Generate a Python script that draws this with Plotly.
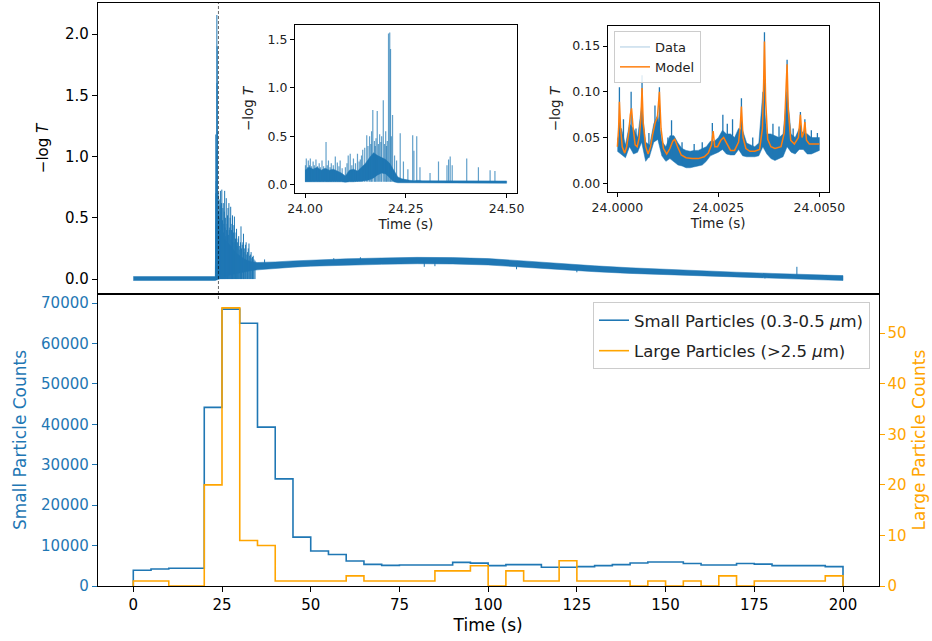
import plotly.graph_objects as go

W, H = 932, 641
BLUE = "#1f77b4"
ORANGE = "#ffa500"
MODEL_ORANGE = "#ff7f0e"
FONT = "DejaVu Sans"

# ---------------- bottom panel: particle counts in 5 s bins ----------------
bin_edges = list(range(0, 205, 5))
small_counts = [3900, 4200, 4400, 4400, 44200, 68500, 65000, 39300, 26500, 12100,
                8650, 7800, 6200, 5350, 5100, 5200, 5200, 5200, 5850, 5650,
                5050, 5300, 5300, 4650, 4650, 4800, 5050, 5300, 5700, 5950,
                5950, 5550, 5200, 5200, 5550, 5400, 5050, 5050, 5050, 4800]
large_counts = [1, 1, 0, 0, 20, 55, 9, 8, 1, 1,
                1, 1, 2, 1, 1, 1, 1, 3, 3, 4,
                0, 3, 1, 1, 5, 1, 1, 1, 0, 1,
                0, 1, 0, 2, 0, 1, 1, 1, 1, 2]
x_ticks = [0, 25, 50, 75, 100, 125, 150, 175, 200]
small_ticks = [0, 10000, 20000, 30000, 40000, 50000, 60000, 70000]
large_ticks = [0, 10, 20, 30, 40, 50]

# ---------------- top panel: -log T over the whole run ----------------
main_t = [0, 23.1, 23.3, 23.6, 24.0, 24.5, 25.5, 26.5, 27.5, 28.5, 29.5, 30.5, 31.5, 32.5,
          33.5, 35, 37, 40, 45, 50, 60, 70, 80, 90, 100, 110, 120, 130, 140, 150, 160,
          170, 180, 190, 200]
main_lo = [-0.012, -0.012, -0.01, -0.005, 0.0, 0.005, 0.015, 0.025, 0.035, 0.045, 0.05,
           0.055, 0.06, 0.065, 0.07, 0.075, 0.08, 0.088, 0.097, 0.105, 0.115, 0.12, 0.125,
           0.123, 0.115, 0.098, 0.077, 0.06, 0.046, 0.034, 0.024, 0.014, 0.005, -0.003, -0.012]
main_hi = [0.02, 0.02, 0.45, 0.5, 0.4, 0.36, 0.33, 0.3, 0.27, 0.23, 0.2, 0.18, 0.16, 0.15,
           0.14, 0.135, 0.135, 0.14, 0.148, 0.155, 0.165, 0.172, 0.177, 0.175, 0.167, 0.148,
           0.127, 0.108, 0.092, 0.078, 0.066, 0.056, 0.046, 0.037, 0.028]
main_spike_t = [23.25, 23.3, 23.35, 23.45, 23.5, 23.55, 23.6, 23.65, 23.75, 23.9, 24.05, 24.2,
                24.35, 24.45, 24.55, 24.65, 24.75, 24.85, 24.95, 25.05, 25.15, 25.25, 25.35,
                25.45, 25.55, 25.65, 25.75, 25.85, 25.95, 26.05, 26.2, 26.3, 26.45, 26.55,
                26.7, 26.8, 26.95, 27.05, 27.2, 27.3, 27.45, 27.55, 27.7, 27.8, 27.95, 28.05,
                28.2, 28.35, 28.5, 28.65, 28.8, 28.95, 29.1, 29.25, 29.4, 29.55, 29.7, 29.85,
                30.0, 30.2, 30.35, 30.5, 30.7, 30.9, 31.05, 31.2, 31.4, 31.6, 31.8, 32.0, 32.2,
                32.4, 32.6, 32.8, 33.0, 33.2, 33.4, 33.6, 33.8, 34.0, 34.3]
main_spike_top = [1.18, 0.7, 0.8, 0.6, 1.05, 2.155, 1.6, 1.9, 1.2, 0.7, 0.55, 0.65,
                  0.5, 0.6, 0.72, 0.4, 0.55, 0.62, 0.73, 0.45, 0.48, 0.58, 0.62, 0.38,
                  0.45, 0.55, 0.72, 0.42, 0.5, 0.35, 0.66, 0.4, 0.45, 0.52, 0.58, 0.36,
                  0.62, 0.4, 0.42, 0.5, 0.59, 0.32, 0.4, 0.45, 0.52, 0.3, 0.38, 0.44,
                  0.51, 0.3, 0.33, 0.38, 0.41, 0.27, 0.3, 0.33, 0.35, 0.24, 0.27, 0.3,
                  0.43, 0.25, 0.28, 0.3, 0.37, 0.22, 0.25, 0.28, 0.3, 0.2, 0.22, 0.25,
                  0.29, 0.19, 0.2, 0.22, 0.17, 0.18, 0.19, 0.16, 0.15]
band_spike_t = [37, 56.5, 64, 82, 85, 108, 125, 178, 187]
band_spike_base = [0.11, 0.135, 0.14, 0.15, 0.15, 0.13, 0.1, 0.03, 0.025]
band_spike_top = [0.16, 0.17, 0.178, 0.1, 0.105, 0.08, 0.055, 0.005, 0.1]
main_y_ticks = [0.0, 0.5, 1.0, 1.5, 2.0]
event_time = 24

# ---------------- inset 1: 24.00 - 24.50 s ----------------
ins1_t = [round(24 + 0.01 * k, 2) for k in range(51)]
ins1_hi = [0.15, 0.18, 0.16, 0.18, 0.15, 0.17, 0.15, 0.16, 0.14, 0.12,
           0.09, 0.15, 0.16, 0.14, 0.18, 0.22, 0.28, 0.33, 0.3, 0.28,
           0.26, 0.22, 0.15, 0.08, 0.06, 0.05,
           0.045, 0.04, 0.045, 0.04, 0.04, 0.038, 0.04, 0.04, 0.045, 0.045,
           0.045, 0.04, 0.04, 0.038, 0.04, 0.04, 0.045, 0.04, 0.038, 0.04,
           0.04, 0.038, 0.038, 0.038, 0.038]
ins1_lo = [0.03, 0.035, 0.03, 0.03, 0.035, 0.03, 0.03, 0.035, 0.03, 0.03,
           0.025, 0.03, 0.03, 0.035, 0.035, 0.04, 0.05, 0.07, 0.1, 0.12,
           0.11, 0.07, 0.03, 0.02, 0.015, 0.015,
           0.015, 0.015, 0.015, 0.015, 0.015, 0.015, 0.015, 0.015, 0.015, 0.015,
           0.015, 0.015, 0.015, 0.015, 0.015, 0.015, 0.015, 0.015, 0.015, 0.015,
           0.015, 0.015, 0.015, 0.015, 0.015]
ins1_spike_t = [24.001, 24.003, 24.006, 24.008, 24.011, 24.013, 24.016, 24.02, 24.023,
                24.027, 24.031, 24.035, 24.038, 24.042, 24.046, 24.052, 24.055, 24.058,
                24.062, 24.065, 24.07, 24.075, 24.08, 24.084, 24.087, 24.092, 24.1, 24.104,
                24.107, 24.112, 24.116, 24.12, 24.125, 24.13, 24.134, 24.137, 24.14, 24.143,
                24.148, 24.153, 24.156, 24.16, 24.163, 24.165, 24.168, 24.172, 24.174, 24.176,
                24.179, 24.182, 24.185, 24.188, 24.19, 24.194, 24.197, 24.2, 24.202, 24.204,
                24.207, 24.21, 24.212, 24.214, 24.217, 24.222, 24.227, 24.236, 24.244, 24.255,
                24.267, 24.27, 24.277, 24.285, 24.31, 24.331, 24.352, 24.356, 24.36, 24.365,
                24.401, 24.43, 24.459, 24.471]
ins1_spike_top = [0.2, 0.27, 0.18, 0.25, 0.2, 0.27, 0.19, 0.24, 0.2, 0.26, 0.19, 0.22,
                  0.18, 0.25, 0.19, 0.44, 0.2, 0.25, 0.18, 0.22, 0.2, 0.29, 0.23, 0.19,
                  0.25, 0.17, 0.18, 0.22, 0.3, 0.32, 0.2, 0.27, 0.22, 0.32, 0.24, 0.26,
                  0.3, 0.36, 0.38, 0.51, 0.4, 0.5, 0.42, 0.55, 0.77, 0.45, 0.4, 0.48,
                  0.76, 0.42, 0.52, 0.44, 0.5, 0.87, 0.42, 0.55, 0.4, 0.45, 1.56, 1.57,
                  1.4, 0.5, 0.72, 0.3, 0.25, 0.53, 0.24, 0.16, 0.51, 0.35, 0.5, 0.18,
                  0.12, 0.24, 0.2, 0.26, 0.29, 0.2, 0.27, 0.18, 0.15, 0.14]
ins1_x_ticks = [24.0, 24.25, 24.5]
ins1_x_text = ["24.00", "24.25", "24.50"]
ins1_y_ticks = [0.0, 0.5, 1.0, 1.5]

# ---------------- inset 2: 24.0000 - 24.0050 s (offsets in 1e-4 s) ----------------
ins2_t = list(range(51))
ins2_hi = [0.048, 0.06, 0.042, 0.065, 0.06, 0.05, 0.085, 0.045, 0.042, 0.065,
           0.075, 0.046, 0.04, 0.052, 0.052, 0.044, 0.038, 0.036, 0.035, 0.036,
           0.036, 0.038, 0.04, 0.046, 0.046, 0.05, 0.058, 0.054, 0.054, 0.05,
           0.06, 0.058, 0.044, 0.042, 0.04, 0.044, 0.1, 0.054, 0.054, 0.052,
           0.05, 0.054, 0.1, 0.054, 0.05, 0.06, 0.055, 0.054, 0.05, 0.05, 0.05]
ins2_lo = [0.035, 0.032, 0.028, 0.04, 0.032, 0.034, 0.045, 0.024, 0.03, 0.045,
           0.048, 0.03, 0.024, 0.027, 0.024, 0.02, 0.019, 0.017, 0.017, 0.018,
           0.019, 0.02, 0.024, 0.03, 0.032, 0.034, 0.037, 0.032, 0.031, 0.031,
           0.037, 0.03, 0.029, 0.029, 0.029, 0.03, 0.04, 0.032, 0.027, 0.025,
           0.027, 0.029, 0.04, 0.034, 0.032, 0.037, 0.037, 0.032, 0.032, 0.034, 0.036]
ins2_spike_t = [0.5, 1.5, 3.4, 4.6, 6.1, 7.8, 9.3, 10.4, 12.5, 13.4, 16.0, 19.0, 21.0,
                23.5, 26.1, 27.2, 28.5, 30.7, 33.5, 36.4, 38.5, 40.0, 42.0, 43.5,
                45.3, 46.4, 48.0, 49.5]
ins2_spike_base = [0.04, 0.035, 0.045, 0.035, 0.05, 0.028, 0.05, 0.05, 0.03, 0.03,
                   0.022, 0.02, 0.022, 0.035, 0.04, 0.035, 0.035, 0.04, 0.032, 0.05,
                   0.032, 0.03, 0.05, 0.036, 0.04, 0.04, 0.035, 0.038]
ins2_spike_top = [0.105, 0.07, 0.1, 0.06, 0.118, 0.055, 0.085, 0.105, 0.05, 0.069,
                  0.045, 0.043, 0.045, 0.066, 0.075, 0.065, 0.07, 0.093, 0.05, 0.165,
                  0.065, 0.062, 0.135, 0.06, 0.078, 0.07, 0.058, 0.055]
model_t = [0.0, 0.3, 0.5, 0.8, 1.2, 1.8, 2.3, 2.8, 3.2, 3.5, 3.9, 4.4, 4.9, 5.4, 5.8, 6.1,
           6.4, 7.0, 7.6, 8.2, 8.8, 9.4, 9.9, 10.4, 10.8, 11.4, 12.2, 13.0, 13.7, 14.2,
           14.9, 15.8, 17.0, 18.5, 20.0, 21.5, 22.5, 23.3, 23.7, 24.1, 24.8, 25.6, 26.3,
           27.0, 28.0, 29.0, 30.0, 30.4, 30.7, 31.1, 31.8, 32.8, 34.0, 35.2, 35.9, 36.2,
           36.4, 36.7, 37.2, 38.0, 39.0, 40.5, 41.3, 41.8, 42.0, 42.3, 42.9, 43.8, 44.8,
           45.3, 45.7, 46.1, 46.4, 46.8, 47.5, 50.0]
model_v = [0.040, 0.060, 0.089, 0.060, 0.040, 0.033, 0.040, 0.055, 0.075, 0.082, 0.060,
           0.042, 0.040, 0.050, 0.070, 0.104, 0.065, 0.040, 0.032, 0.040, 0.055, 0.067,
           0.072, 0.100, 0.060, 0.038, 0.032, 0.038, 0.046, 0.048, 0.040, 0.031, 0.028,
           0.027, 0.027, 0.029, 0.033, 0.042, 0.057, 0.040, 0.040, 0.047, 0.050, 0.044,
           0.036, 0.036, 0.045, 0.062, 0.084, 0.050, 0.038, 0.035, 0.035, 0.037, 0.060,
           0.110, 0.155, 0.090, 0.048, 0.040, 0.038, 0.040, 0.055, 0.110, 0.130, 0.080,
           0.047, 0.043, 0.050, 0.075, 0.050, 0.055, 0.067, 0.047, 0.043, 0.043]
ins2_x_ticks = [24.0, 24.0025, 24.005]
ins2_x_text = ["24.0000", "24.0025", "24.0050"]
ins2_y_ticks = [0.0, 0.05, 0.10, 0.15]


# ---------------- helpers ----------------
def band(ts, lo, hi):
    return list(ts) + list(ts)[::-1], list(hi) + list(lo)[::-1]


def segments(ts, bases, tops):
    xs, ys = [], []
    for t, b, tp in zip(ts, bases, tops):
        xs += [t, t, None]
        ys += [b, tp, None]
    return xs, ys


def step(edges, vals):
    return [edges[0]] + edges[:-1] + [edges[-1]], [0] + vals + [0]


fig = go.Figure()

# top main panel
bx, by = band(main_t, main_lo, main_hi)
fig.add_trace(go.Scatter(x=bx, y=by, fill="toself", fillcolor=BLUE, mode="lines",
                         line=dict(width=0.5, color=BLUE), showlegend=False,
                         xaxis="x", yaxis="y"))
sx, sy = segments(main_spike_t, [0.0] * len(main_spike_t), main_spike_top)
fig.add_trace(go.Scatter(x=sx, y=sy, mode="lines", line=dict(width=1, color=BLUE),
                         showlegend=False, xaxis="x", yaxis="y"))
sx, sy = segments(band_spike_t, band_spike_base, band_spike_top)
fig.add_trace(go.Scatter(x=sx, y=sy, mode="lines", line=dict(width=1, color=BLUE),
                         showlegend=False, xaxis="x", yaxis="y"))

# bottom panel
hx, hy = step(bin_edges, small_counts)
fig.add_trace(go.Scatter(x=hx, y=hy, mode="lines", line=dict(shape="hv", width=1.6, color=BLUE),
                         name="Small Particles (0.3-0.5 <i>μ</i>m)", xaxis="x2", yaxis="y2",
                         legend="legend", legendgroup="small"))
hx, hy = step(bin_edges, large_counts)
fig.add_trace(go.Scatter(x=hx, y=hy, mode="lines", line=dict(shape="hv", width=1.6, color=ORANGE),
                         name="Large Particles (>2.5 <i>μ</i>m)", xaxis="x2", yaxis="y3",
                         legend="legend", legendgroup="large"))

# inset 1
bx, by = band(ins1_t, ins1_lo, ins1_hi)
fig.add_trace(go.Scatter(x=bx, y=by, fill="toself", fillcolor=BLUE, mode="lines",
                         line=dict(width=0.5, color=BLUE), showlegend=False,
                         xaxis="x4", yaxis="y4"))
sx, sy = segments(ins1_spike_t, [0.03] * len(ins1_spike_t), ins1_spike_top)
fig.add_trace(go.Scatter(x=sx, y=sy, mode="lines", line=dict(width=1.2, color="rgba(31,119,180,0.7)"),
                         showlegend=False, xaxis="x4", yaxis="y4"))

# inset 2
t2 = [24 + v * 1e-4 for v in ins2_t]
bx, by = band(t2, ins2_lo, ins2_hi)
fig.add_trace(go.Scatter(x=bx, y=by, fill="toself", fillcolor=BLUE, mode="lines",
                         line=dict(width=0.5, color=BLUE), showlegend=False,
                         xaxis="x5", yaxis="y5"))
sx, sy = segments([24 + v * 1e-4 for v in ins2_spike_t], ins2_spike_base, ins2_spike_top)
fig.add_trace(go.Scatter(x=sx, y=sy, mode="lines", line=dict(width=1.3, color=BLUE),
                         showlegend=False, xaxis="x5", yaxis="y5"))
fig.add_trace(go.Scatter(x=[None], y=[None], mode="lines", name="Data",
                         line=dict(width=1.5, color="rgba(31,119,180,0.25)"),
                         xaxis="x5", yaxis="y5", legend="legend2"))
fig.add_trace(go.Scatter(x=[24 + v * 1e-4 for v in model_t], y=model_v, mode="lines", name="Model",
                         line=dict(width=1.5, color=MODEL_ORANGE),
                         xaxis="x5", yaxis="y5", legend="legend2"))

# ---------------- layout ----------------
def dx(p):
    return p / W


def dy(p):
    return 1 - p / H


frame = dict(showline=True, linecolor="black", linewidth=1, showgrid=False, zeroline=False,
             ticks="outside", ticklen=5, tickwidth=1, tickcolor="black", automargin=False)

main_x = [dx(97.8), dx(878.5)]
tick_font = dict(family=FONT, size=15, color="black")
small_font = dict(family=FONT, size=12.5, color="#222")

fig.update_layout(
    width=W, height=H, margin=dict(l=0, r=0, t=0, b=0, autoexpand=False),
    paper_bgcolor="white", plot_bgcolor="white",
    font=dict(family=FONT, size=15, color="black"),
    xaxis=dict(frame, domain=main_x, anchor="y", range=[-10, 210], mirror=True,
               ticks="", showticklabels=False),
    yaxis=dict(frame, domain=[dy(294), dy(3)], anchor="x", range=[-0.122, 2.253], mirror=True,
               tickvals=main_y_ticks, ticktext=[f"{v:.1f}" for v in main_y_ticks],
               tickfont=tick_font,
               title=dict(text="\u2212log <i>T</i>", font=dict(family=FONT, size=15), standoff=12)),
    xaxis2=dict(frame, domain=main_x, anchor="y2", range=[-10, 210], mirror=True,
                tickvals=x_ticks, ticktext=[str(v) for v in x_ticks], tickfont=tick_font,
                title=dict(text="Time (s)", font=dict(family=FONT, size=17), standoff=6)),
    yaxis2=dict(frame, domain=[dy(586), dy(294)], anchor="x2", range=[0, 72240],
                tickvals=small_ticks, ticktext=[str(v) for v in small_ticks],
                tickcolor=BLUE, tickfont=dict(family=FONT, size=15, color=BLUE),
                title=dict(text="Small Particle Counts", font=dict(family=FONT, size=17, color=BLUE),
                           standoff=10)),
    yaxis3=dict(frame, overlaying="y2", anchor="x2", side="right", range=[0, 57.75],
                tickvals=large_ticks, ticktext=[str(v) for v in large_ticks],
                tickcolor=ORANGE, tickfont=dict(family=FONT, size=15, color=ORANGE),
                title=dict(text="Large Particle Counts", font=dict(family=FONT, size=17, color=ORANGE),
                           standoff=7)),
    xaxis4=dict(frame, domain=[dx(295), dx(516.7)], anchor="y4", range=[23.975, 24.525], mirror=True,
                tickvals=ins1_x_ticks, ticktext=ins1_x_text, tickfont=small_font, ticklen=4,
                title=dict(text="Time (s)", font=dict(family=FONT, size=13.5, color="#222"), standoff=4)),
    yaxis4=dict(frame, domain=[dy(192.7), dy(25)], anchor="x4", range=[-0.083, 1.648], mirror=True,
                tickvals=ins1_y_ticks, ticktext=[f"{v:.1f}" for v in ins1_y_ticks],
                tickfont=small_font, ticklen=4,
                title=dict(text="\u2212log <i>T</i>", font=dict(family=FONT, size=13.5, color="#222"),
                           standoff=10)),
    xaxis5=dict(frame, domain=[dx(607.7), dx(828.7)], anchor="y5", range=[23.99976, 24.00523],
                mirror=True, tickvals=ins2_x_ticks, ticktext=ins2_x_text, tickfont=small_font,
                ticklen=4,
                title=dict(text="Time (s)", font=dict(family=FONT, size=13.5, color="#222"), standoff=4)),
    yaxis5=dict(frame, domain=[dy(192.3), dy(25.7)], anchor="x5", range=[-0.0098, 0.1722], mirror=True,
                tickvals=ins2_y_ticks, ticktext=[f"{v:.2f}" for v in ins2_y_ticks],
                tickfont=small_font, ticklen=4,
                title=dict(text="\u2212log <i>T</i>", font=dict(family=FONT, size=13.5, color="#222"),
                           standoff=8)),
    legend=dict(x=dx(870), y=dy(302), xanchor="right", yanchor="top",
                bgcolor="rgba(255,255,255,0.85)", bordercolor="#cccccc", borderwidth=1,
                font=dict(family=FONT, size=16.5, color="#222"), tracegroupgap=6),
    legend2=dict(x=dx(614), y=dy(31), xanchor="left", yanchor="top",
                 bgcolor="rgba(255,255,255,0.85)", bordercolor="#cccccc", borderwidth=1,
                 font=dict(family=FONT, size=13, color="#222")),
    shapes=[dict(type="line", xref="x", yref="paper", x0=event_time, x1=event_time,
                 y0=dy(299), y1=dy(3), line=dict(color="black", width=0.6, dash="3px,2px"))],
)

fig.write_html("out.html", config={"displayModeBar": False},
               post_script="document.body.style.margin='0';document.body.style.overflow='hidden';")
